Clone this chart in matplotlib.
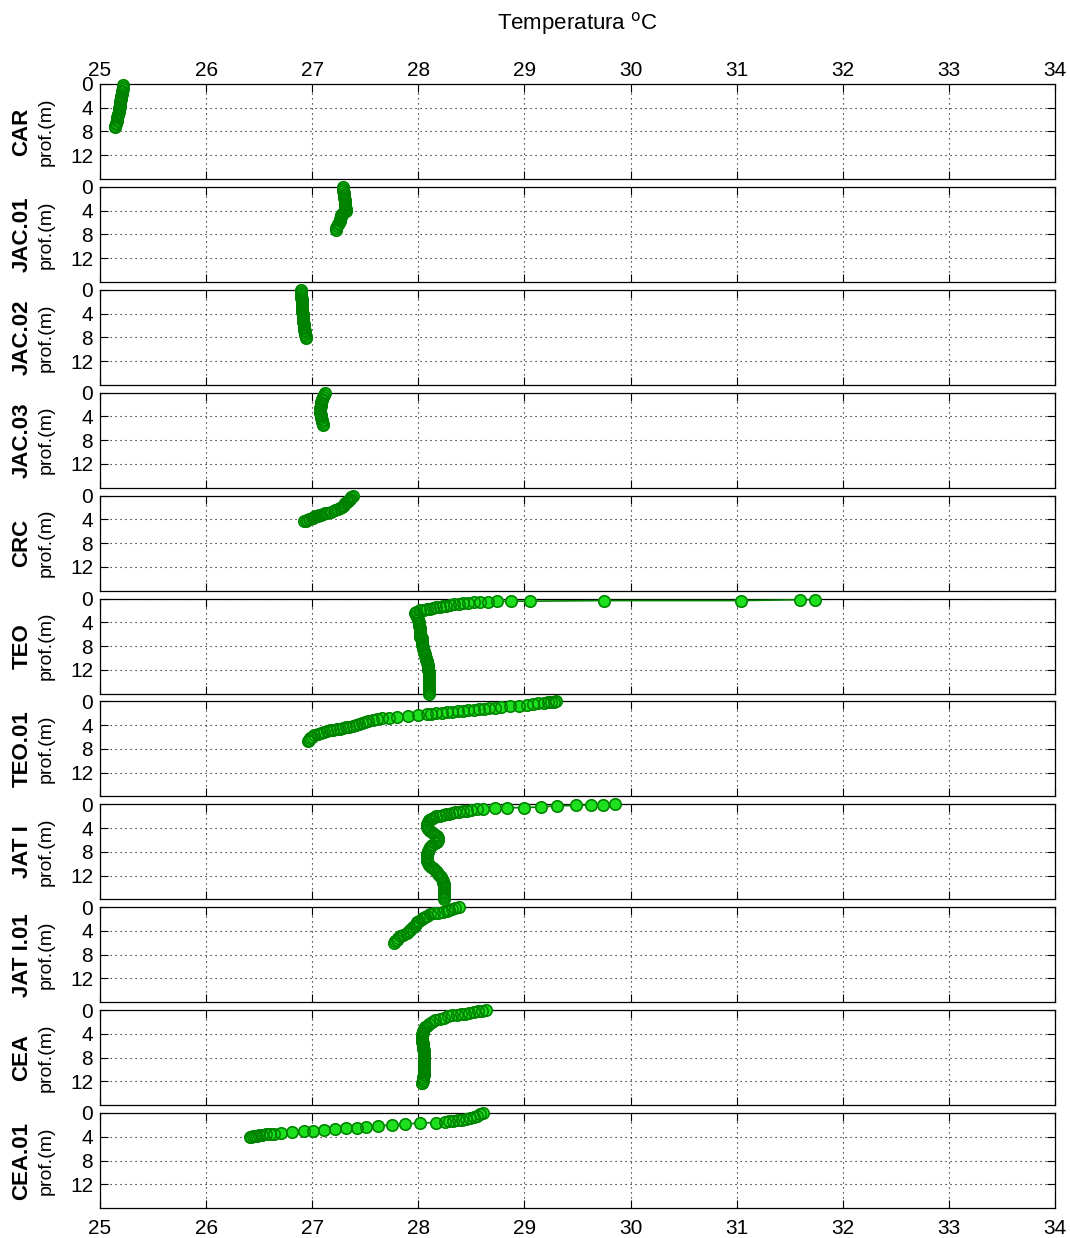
import matplotlib
matplotlib.use('Agg')
import matplotlib.pyplot as plt

plt.rcParams['font.family'] = ['Liberation Sans', 'DejaVu Sans']

# perfis de temperatura (oC) x profundidade (m) por estacao
car_prof = [0.2, 0.5, 0.8, 1.1, 1.4, 1.7, 2.0, 2.3, 2.6, 2.9, 3.2, 3.5, 3.8, 4.1, 4.4,
            4.7, 5.0, 5.3, 5.6, 5.9, 6.2, 6.5, 6.8, 7.1, 7.3]
car_temp = [25.22, 25.22, 25.22, 25.21, 25.21, 25.21, 25.20, 25.20, 25.20, 25.19, 25.19,
            25.19, 25.19, 25.18, 25.18, 25.18, 25.17, 25.17, 25.16, 25.16, 25.16, 25.15,
            25.15, 25.14, 25.14]

jac01_prof = [0.1, 0.4, 0.7, 1.0, 1.3, 1.6, 1.9, 2.2, 2.5, 2.8, 3.1, 3.4, 3.7, 4.0, 4.2,
              4.5, 4.8, 5.1, 5.4, 5.7, 6.0, 6.3, 6.6, 6.9, 7.2]
jac01_temp = [27.29, 27.29, 27.29, 27.30, 27.30, 27.30, 27.30, 27.31, 27.31, 27.31, 27.31,
              27.31, 27.32, 27.32, 27.30, 27.28, 27.27, 27.27, 27.26, 27.26, 27.25, 27.24,
              27.23, 27.22, 27.22]

jac02_prof = [0.1, 0.4, 0.7, 1.0, 1.3, 1.6, 1.9, 2.2, 2.5, 2.8, 3.1, 3.4, 3.7, 4.0, 4.3,
              4.6, 4.9, 5.2, 5.5, 5.8, 6.1, 6.4, 6.7, 7.0, 7.3, 7.6, 7.9, 8.1]
jac02_temp = [26.89, 26.89, 26.89, 26.89, 26.89, 26.90, 26.90, 26.90, 26.90, 26.90, 26.90,
              26.90, 26.90, 26.91, 26.91, 26.91, 26.91, 26.91, 26.91, 26.92, 26.92, 26.92,
              26.92, 26.93, 26.93, 26.93, 26.94, 26.94]

jac03_prof = [0.1, 0.4, 0.7, 1.0, 1.3, 1.6, 1.9, 2.2, 2.5, 2.8, 3.1, 3.4, 3.7, 4.0, 4.3,
              4.6, 4.9, 5.2, 5.4]
jac03_temp = [27.12, 27.11, 27.10, 27.09, 27.09, 27.08, 27.08, 27.08, 27.07, 27.07, 27.07,
              27.07, 27.08, 27.08, 27.08, 27.09, 27.09, 27.10, 27.10]

crc_prof = [0.1, 0.3, 0.5, 0.7, 0.9, 1.1, 1.3, 1.5, 1.7, 1.9, 2.1, 2.3, 2.5, 2.7, 2.9,
            3.0, 3.1, 3.2, 3.3, 3.4, 3.5, 3.6, 3.7, 3.8, 3.9, 4.0, 4.1, 4.2, 4.3]
crc_temp = [27.38, 27.37, 27.36, 27.35, 27.34, 27.33, 27.31, 27.30, 27.29, 27.28, 27.26,
            27.24, 27.21, 27.18, 27.14, 27.12, 27.10, 27.08, 27.06, 27.05, 27.03, 27.02,
            27.01, 27.00, 26.98, 26.97, 26.95, 26.94, 26.92]

teo_prof = [0.2, 0.2, 0.35, 0.35, 0.45, 0.45, 0.5, 0.55, 0.6, 0.65, 0.7, 0.8, 0.9, 1.0,
            1.1, 1.2, 1.3, 1.4, 1.5, 1.6, 1.7, 1.8, 1.9, 2.0, 2.2, 2.5,
            2.8, 3.1, 3.4, 3.7, 4.0, 4.3, 4.6, 4.9, 5.2, 5.5, 5.8, 6.1, 6.4, 6.7, 7.0,
            7.3, 7.6, 7.9, 8.2, 8.5, 8.8, 9.1, 9.4, 9.7, 10.0, 10.3, 10.6, 10.9, 11.2,
            11.5, 11.8, 12.1, 12.4, 12.7, 13.0, 13.3, 13.6, 13.9, 14.2, 14.5, 14.8, 15.1,
            15.4, 15.7, 16.0]
teo_temp = [31.74, 31.60, 31.04, 29.75, 29.05, 28.87, 28.74, 28.66, 28.58, 28.52, 28.47,
            28.42, 28.38, 28.34, 28.30, 28.26, 28.23, 28.20, 28.17, 28.14, 28.11, 28.08,
            28.05, 28.02, 27.98, 27.97,
            27.98, 27.99, 28.00, 28.00, 28.01, 28.01, 28.01, 28.02, 28.02, 28.02, 28.02,
            28.02, 28.02, 28.03, 28.03, 28.03, 28.03, 28.03, 28.04, 28.04, 28.05, 28.05,
            28.06, 28.06, 28.07, 28.07, 28.08, 28.08, 28.09, 28.09, 28.09, 28.09, 28.10,
            28.10, 28.10, 28.10, 28.10, 28.10, 28.10, 28.10, 28.10, 28.10, 28.10, 28.10,
            28.10]

teo01_prof = [0.00, 0.05, 0.10, 0.17, 0.25, 0.35, 0.47, 0.60, 0.72, 0.85,
              0.97, 1.05, 1.13, 1.22, 1.30, 1.38, 1.47, 1.55, 1.64, 1.73,
              1.83, 1.93, 2.03, 2.13, 2.20, 2.33, 2.48, 2.62, 2.73, 2.85,
              2.98, 3.10, 3.30, 3.45, 3.60, 3.75, 3.90, 4.10, 4.25, 4.38,
              4.50, 4.60, 4.70, 4.80, 4.90, 5.00, 5.15, 5.30, 5.50, 5.70,
              5.95, 6.20, 6.45, 6.70]
teo01_temp = [29.30, 29.28, 29.25, 29.22, 29.18, 29.13, 29.08, 29.02, 28.95, 28.86,
              28.78, 28.72, 28.67, 28.62, 28.57, 28.52, 28.47, 28.42, 28.37, 28.32,
              28.27, 28.22, 28.17, 28.12, 28.08, 28.00, 27.90, 27.80, 27.72, 27.66,
              27.61, 27.57, 27.53, 27.50, 27.47, 27.44, 27.41, 27.38, 27.35, 27.32,
              27.29, 27.26, 27.23, 27.20, 27.17, 27.14, 27.11, 27.08, 27.05, 27.02,
              27.00, 26.98, 26.97, 26.96]

jat_prof = [0.00, 0.10, 0.10, 0.20, 0.25, 0.45, 0.55, 0.60, 0.70, 0.80,
            0.85, 0.95, 1.05, 1.15, 1.25, 1.35, 1.45, 1.55, 1.65, 1.75,
            1.90, 2.05, 2.25, 2.45, 2.70, 3.00, 3.30, 3.60, 3.90, 4.20,
            4.50, 4.80, 5.10, 5.40, 5.70, 6.00, 6.30, 6.60, 6.90, 7.20,
            7.50, 7.80, 8.10, 8.40, 8.70, 9.00, 9.30, 9.60, 9.90, 10.20,
            10.50, 10.80, 11.10, 11.40, 11.70, 12.00, 12.30, 12.60, 12.90, 13.20,
            13.50, 13.80, 14.10, 14.40, 14.70, 15.00, 15.30, 15.60, 15.90]
jat_temp = [29.85, 29.74, 29.63, 29.49, 29.31, 29.16, 29.00, 28.84, 28.72, 28.61,
            28.55, 28.50, 28.46, 28.42, 28.38, 28.35, 28.32, 28.29, 28.26, 28.23,
            28.20, 28.17, 28.14, 28.12, 28.10, 28.09, 28.08, 28.08, 28.08, 28.09,
            28.11, 28.14, 28.16, 28.18, 28.19, 28.19, 28.18, 28.16, 28.13, 28.11,
            28.10, 28.09, 28.09, 28.08, 28.08, 28.08, 28.08, 28.08, 28.09, 28.10,
            28.12, 28.14, 28.16, 28.18, 28.19, 28.20, 28.21, 28.22, 28.23, 28.23,
            28.24, 28.24, 28.24, 28.24, 28.24, 28.24, 28.24, 28.24, 28.24]

jat01_prof = [0.00, 0.15, 0.30, 0.45, 0.60, 0.75, 0.90, 1.05, 1.20, 1.40,
              1.60, 1.80, 2.00, 2.25, 2.50, 2.80, 3.10, 3.40, 3.70, 4.00,
              4.30, 4.60, 4.90, 5.20, 5.45, 5.75, 6.10]
jat01_temp = [28.38, 28.35, 28.32, 28.29, 28.27, 28.23, 28.19, 28.15, 28.11, 28.08,
              28.06, 28.04, 28.03, 28.01, 27.99, 27.98, 27.97, 27.95, 27.93, 27.91,
              27.89, 27.86, 27.83, 27.81, 27.80, 27.78, 27.77]

cea_prof = [0.00, 0.10, 0.22, 0.35, 0.48, 0.60, 0.70, 0.80, 0.90, 1.05,
            1.25, 1.45, 1.70, 2.00, 2.30, 2.60, 2.90, 3.20,
            3.5, 3.8, 4.1, 4.4, 4.7, 5.0, 5.3, 5.6, 5.9, 6.2, 6.5, 6.8, 7.1, 7.4,
            7.7, 8.0, 8.3, 8.6, 8.9, 9.2, 9.5, 9.8, 10.1, 10.4, 10.7, 11.0, 11.3,
            11.6, 11.9, 12.2, 12.3]
cea_temp = [28.64, 28.60, 28.56, 28.52, 28.48, 28.44, 28.40, 28.36, 28.32, 28.28,
            28.24, 28.20, 28.16, 28.13, 28.10, 28.08, 28.06, 28.05,
            28.04, 28.04, 28.03, 28.03, 28.03, 28.03, 28.03, 28.04, 28.04, 28.04,
            28.04, 28.05, 28.05, 28.05, 28.05, 28.05, 28.05, 28.05, 28.05, 28.05,
            28.05, 28.05, 28.05, 28.05, 28.05, 28.05, 28.04, 28.04, 28.04, 28.03,
            28.03]

cea01_prof = [0.0, 0.2, 0.45, 0.7, 0.9, 1.05, 1.15, 1.25, 1.35, 1.42,
              1.5, 1.6, 1.7, 1.85, 2.0, 2.15, 2.3, 2.45, 2.6, 2.75,
              2.85, 3.0, 3.1, 3.25, 3.4, 3.5, 3.55, 3.62, 3.7, 3.77,
              3.83, 3.88, 3.93, 3.97, 4.0]
cea01_temp = [28.61, 28.58, 28.55, 28.52, 28.49, 28.45, 28.41, 28.37, 28.33, 28.29,
              28.25, 28.17, 28.02, 27.87, 27.75, 27.62, 27.51, 27.42, 27.32, 27.21,
              27.11, 27.01, 26.92, 26.81, 26.71, 26.64, 26.60, 26.56, 26.53, 26.50,
              26.48, 26.46, 26.44, 26.42, 26.41]

estacoes = ['CAR', 'JAC.01', 'JAC.02', 'JAC.03', 'CRC', 'TEO', 'TEO.01',
            'JAT I', 'JAT I.01', 'CEA', 'CEA.01']
perfis = [(car_temp, car_prof), (jac01_temp, jac01_prof), (jac02_temp, jac02_prof),
          (jac03_temp, jac03_prof), (crc_temp, crc_prof), (teo_temp, teo_prof),
          (teo01_temp, teo01_prof), (jat_temp, jat_prof), (jat01_temp, jat01_prof),
          (cea_temp, cea_prof), (cea01_temp, cea01_prof)]

verde_esc = '#008000'
verde_cla = '#1fe01f'

W, H = 1070., 1238.
fig = plt.figure(figsize=(W / 100, H / 100), dpi=100)

x0, x1 = 100., 1055.
topo0, passo, altura = 84., 102.9, 95.
n = len(estacoes)

for i in range(n):
    topo = topo0 + i * passo
    ax = fig.add_axes([x0 / W, 1 - (topo + altura) / H, (x1 - x0) / W, altura / H])
    temp, prof = perfis[i]
    # linha, depois o preenchimento dos circulos e por fim os contornos
    ax.plot(temp, prof, '-', color=verde_esc, lw=1.2, clip_on=False, zorder=3)
    ax.plot(temp, prof, 'o', ms=9.2, mfc=verde_cla, mec='none',
            clip_on=False, zorder=4)
    ax.plot(temp, prof, 'o', ms=8.2, mfc='none', mec=verde_esc, mew=1.1,
            clip_on=False, zorder=5)
    ax.set_xlim(25, 34)
    ax.set_ylim(16, 0)
    ax.set_xticks(range(25, 35))
    ax.set_yticks([0, 4, 8, 12])
    ax.grid(True, color='k', lw=0.8, linestyle=(0, (1, 3.5)))
    ax.set_axisbelow(True)
    ax.tick_params(direction='in', top=True, right=True, length=5.5, width=0.8,
                   labelsize=15, pad=5,
                   labeltop=(i == 0), labelbottom=(i == n - 1))
    if i == 0:
        ax.tick_params(axis='x', pad=3)
    else:
        ax.tick_params(axis='x', pad=8)
    for s in ax.spines.values():
        s.set_linewidth(0.9)
    meio = 1 - (topo + altura / 2) / H
    fig.text(22 / W, meio, estacoes[i], rotation=90, ha='center', va='center',
             fontsize=16, fontweight='bold')
    fig.text(46 / W, meio, 'prof.(m)', rotation=90, ha='center', va='center',
             fontsize=14)

fig.text((x0 + x1) / 2 / W, 1 - 23 / H, 'Temperatura $^{\\mathrm{o}}$C',
         ha='center', va='center', fontsize=16)

plt.savefig('out.png', dpi=100)
